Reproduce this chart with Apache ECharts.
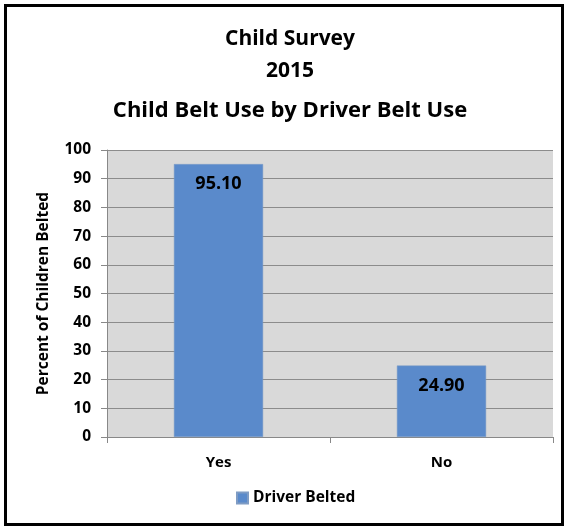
<!DOCTYPE html>
<html><head><meta charset="utf-8">
<script src="https://cdn.jsdelivr.net/npm/echarts@6/dist/echarts.min.js"></script>
<style>html,body{margin:0;padding:0;background:#fff}
#frame{position:absolute;left:4px;top:4px;width:554px;height:516px;border:3px solid #000;}
#c{position:absolute;left:0;top:0;width:569px;height:529px}</style>
</head><body>
<div id="frame"></div>
<div id="c"></div>
<script>
const titleLines = ['Child Survey', '2015', 'Child Belt Use by Driver Belt Use'];
const categories = ['Yes', 'No'];
const seriesName = 'Driver Belted';
const values = [95.10, 24.90];
const yAxisName = 'Percent of Children Belted';
const yMin = 0, yMax = 100, yInterval = 10;

const font = 'Open Sans';
const chart = echarts.init(document.getElementById('c'));
chart.setOption({
  backgroundColor: 'transparent',
  textStyle: {fontFamily: font},
  title: [
    {text: titleLines[0], left: 285, textAlign: 'center', top: 24, textStyle: {fontSize: 21, fontWeight: 'bold', color: '#000', fontFamily: font}},
    {text: titleLines[1], left: 285, textAlign: 'center', top: 56, textStyle: {fontSize: 21, fontWeight: 'bold', color: '#000', fontFamily: font}},
    {text: titleLines[2], left: 285, textAlign: 'center', top: 95, textStyle: {fontSize: 22, fontWeight: 'bold', color: '#000', fontFamily: font}}
  ],
  legend: {
    data: [seriesName], bottom: 18, left: 231, itemWidth: 11, itemHeight: 11, itemGap: 4,
    icon: 'rect',
    textStyle: {fontSize: 15.5, fontWeight: 'bold', color: '#000', fontFamily: font}
  },
  grid: {left: 107, right: 16, top: 150, bottom: 92, show: true, backgroundColor: '#D9D9D9', borderWidth: 0},
  xAxis: {
    type: 'category', data: categories,
    axisLine: {lineStyle: {color: '#888', width: 1}},
    axisTick: {show: true, length: 6, lineStyle: {color: '#888'}},
    axisLabel: {fontSize: 15, fontWeight: 'bold', color: '#000', margin: 18, fontFamily: font}
  },
  yAxis: {
    type: 'value', min: yMin, max: yMax, interval: yInterval,
    name: yAxisName, nameLocation: 'middle', nameGap: 55, nameRotate: 90,
    nameTextStyle: {fontSize: 15.5, fontWeight: 'bold', color: '#000', fontFamily: font},
    axisLine: {show: true, lineStyle: {color: '#888'}},
    axisTick: {show: true, length: 6, lineStyle: {color: '#888'}},
    splitLine: {lineStyle: {color: '#8C8C8C', width: 1}},
    axisLabel: {fontSize: 15.5, fontWeight: 'bold', color: '#000', margin: 16, fontFamily: font}
  },
  series: [{
    name: seriesName, type: 'bar', data: values, barWidth: '40%',
    itemStyle: {color: '#5A8ACB', borderColor: '#7f9cc4', borderWidth: 0.5},
    label: {show: true, position: 'insideTop', distance: 11, formatter: p => p.value.toFixed(2),
      fontSize: 18, fontWeight: 'bold', color: '#000', fontFamily: font}
  }]
});
</script>
</body></html>
